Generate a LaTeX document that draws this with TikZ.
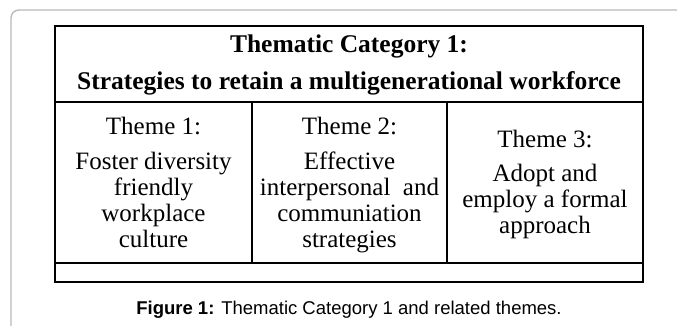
\documentclass[tikz,border=0pt]{standalone}
\usepackage{fontspec}
\setmainfont{Liberation Serif}
\newfontfamily\capfont{Liberation Sans}
\usepackage{tikz}

\begin{document}
\begin{tikzpicture}[x=1pt,y=-1pt,
    cell/.style={align=center,anchor=base,inner sep=0pt,
      font=\fontsize{25}{25.7}\selectfont},
    head/.style={align=center,anchor=base,inner sep=0pt,
      font=\bfseries\fontsize{25.5}{37}\selectfont},
    rule/.style={line width=1.3pt,black},
    frame/.style={line width=1.8pt,black}]
        \useasboundingbox (0,0) rectangle (677,326);
        % outer gray panel
        \draw[gray!55,line width=1.4pt,rounded corners=8pt] (11,10) rectangle (700,350);
        % table corners
        \coordinate (tl) at (55,26);
        \coordinate (br) at (643,282);
        \coordinate (hl) at (55,102);
        \coordinate (hr) at (643,102);
        \coordinate (rl) at (55,263);
        \coordinate (rr) at (643,263);
        \coordinate (c1t) at (252,102);
        \coordinate (c1b) at (252,263);
        \coordinate (c2t) at (447,102);
        \coordinate (c2b) at (447,263);
        \draw[rule] (hl) -- (hr);
        \draw[rule] (rl) -- (rr);
        \draw[rule] (c1t) -- (c1b);
        \draw[rule] (c2t) -- (c2b);
        \draw[frame] (tl) rectangle (br);
        % texts (base = baseline of the last line)
        \node[head] (title) at (349,90) {Thematic Category 1:\\Strategies to retain a multigenerational workforce};
        \node[cell] (theme1) at (153.5,247) {Theme 1:\\[9.5pt]Foster diversity\\friendly\\workplace\\culture};
        \node[cell] (theme2) at (349.5,247) {Theme 2:\\[9.5pt]Effective\\interpersonal\ \ and\\communiation\\strategies};
        \node[cell] (theme3) at (545,233) {Theme 3:\\[8pt]Adopt and\\employ a formal\\approach};
        \node[anchor=base,inner sep=0pt,font=\capfont\fontsize{18.5}{20}\selectfont] (caption) at (349,314)
          {\textbf{Figure 1:} Thematic Category 1 and related themes.};
\end{tikzpicture}
\end{document}
